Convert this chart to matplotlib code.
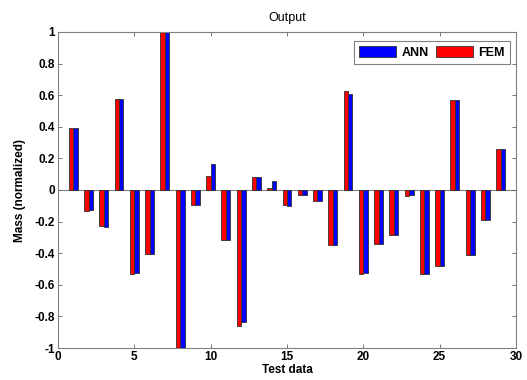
import matplotlib
matplotlib.use("Agg")
import matplotlib.pyplot as plt
import numpy as np

plt.rcParams['font.family'] = ['Liberation Sans', 'DejaVu Sans']

test_idx = list(range(1, 30))
fem = [0.39, -0.13, -0.23, 0.578, -0.53, -0.403, 1.0, -1.0, -0.095, 0.089,
       -0.318, -0.858, 0.083, 0.015, -0.097, -0.034, -0.072, -0.345, 0.625, -0.53,
       -0.341, -0.284, -0.038, -0.53, -0.483, 0.572, -0.409, -0.19, 0.26]
ann = [0.39, -0.127, -0.233, 0.578, -0.523, -0.403, 1.0, -1.0, -0.095, 0.163,
       -0.318, -0.837, 0.083, 0.055, -0.104, -0.034, -0.072, -0.345, 0.608, -0.525,
       -0.341, -0.284, -0.034, -0.53, -0.479, 0.568, -0.409, -0.19, 0.26]
xticks = [0, 5, 10, 15, 20, 25, 30]
yticks = [-1, -0.8, -0.6, -0.4, -0.2, 0, 0.2, 0.4, 0.6, 0.8, 1]
ytick_labels = ['-1', '-0.8', '-0.6', '-0.4', '-0.2', '0', '0.2', '0.4', '0.6', '0.8', '1']

fig = plt.figure(figsize=(5.27, 3.80), dpi=100)
ax = fig.add_axes([0.110, 0.084, 0.869, 0.832])

x = np.array(test_idx, dtype=float)
w = 0.29
b_ann = ax.bar(x + w / 2, ann, width=w, color='#0000ff', edgecolor='#303030', linewidth=0.6, label='ANN', zorder=2)
b_fem = ax.bar(x - w / 2, fem, width=w, color='#ff0000', edgecolor='#303030', linewidth=0.6, label='FEM', zorder=2)
ax.axhline(0, color='#808080', linewidth=0.8, zorder=1)

ax.set_xlim(0, 30)
ax.set_ylim(-1, 1)
ax.set_xticks(xticks)
ax.set_xticklabels([str(t) for t in xticks], fontweight='bold', fontsize=8.5)
ax.set_yticks(yticks)
ax.set_yticklabels(ytick_labels, fontweight='bold', fontsize=8.5)
ax.tick_params(direction='in', top=True, right=True, length=3, width=0.6, color='#606060', pad=2)
for s in ax.spines.values():
    s.set_color('#808080')
    s.set_linewidth(0.8)

ax.set_title('Output', fontsize=9, pad=8)
ax.set_xlabel('Test data', fontweight='bold', fontsize=8.5, labelpad=1)
ax.set_ylabel('Mass (normalized)', fontweight='bold', fontsize=8.5, labelpad=6)

leg = ax.legend(handles=[b_ann, b_fem], loc='upper right', ncol=2,
                prop={'weight': 'bold', 'size': 9}, frameon=True, fancybox=False,
                handlelength=3.0, handleheight=1.0, columnspacing=0.6, handletextpad=0.4,
                borderpad=0.4, borderaxespad=0, bbox_to_anchor=(0.987, 0.972))
leg.get_frame().set_edgecolor('#606060')
leg.get_frame().set_linewidth(0.8)

fig.savefig('out.png', dpi=100)
